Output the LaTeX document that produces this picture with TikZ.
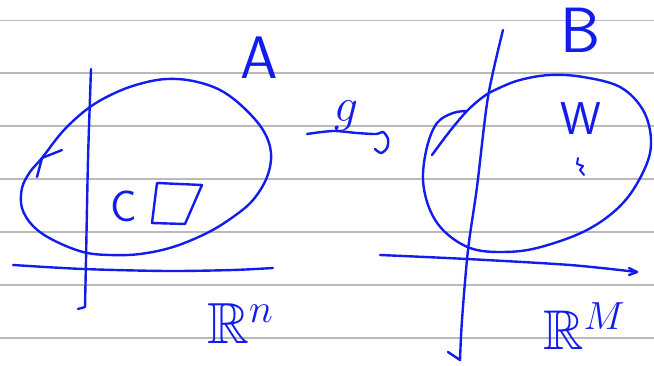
\RequirePackage{fix-cm}
\documentclass[tikz,border=0pt]{standalone}
\usepackage{amssymb}
\definecolor{handblue}{RGB}{18,28,236}
\definecolor{rulegray}{RGB}{186,186,186}
\begin{document}
\begin{tikzpicture}[x=1pt,y=-1pt,
  ink/.style={draw=handblue, line width=2.4pt, line cap=round, line join=round},
  rule/.style={draw=rulegray, line width=1.3pt},
  lbl/.style={text=handblue, inner sep=0pt}]
\useasboundingbox (0,0) rectangle (654,366);
% ruled paper
\foreach \yy in {20.5,73,126,179,232,285,338} \draw[rule] (0,\yy) -- (654,\yy);
% ---- left picture: A in R^n
\draw[ink] plot[smooth cycle, tension=0.6] coordinates {(90,107) (117,92) (143,83) (167,79) (193,81) (220,90) (243,107) (263,130) (271,153) (267,177) (253,200) (233,217) (207,233) (173,247) (140,254) (110,255) (83,252) (53,240) (33,226) (22,208) (22,188) (30,172) (42,158) (64,130)};
\draw[ink] (62,150) -- (42,158) -- (37,177);
\draw[ink] plot[smooth] coordinates {(13,265) (83,269) (167,271) (233,270) (273,268)};
\draw[ink] plot[smooth] coordinates {(91,69) (88,160) (86,260) (85,307)} -- (78,309);
\node[lbl, anchor=base, font=\sffamily\fontsize{60}{60}\selectfont] (A) at (259,79) {A};
\node[lbl, anchor=base, font=\sffamily\fontsize{44}{44}\selectfont] (C) at (124,222) {C};
\draw[ink] (157,183) -- (202,185) -- (185,224) -- (152,223) -- cycle;
\node[lbl, anchor=base west, font=\fontsize{58}{58}\selectfont] (Rn) at (207,344) {$\mathbb{R}^n$};
% ---- the map g
\draw[ink] plot[smooth] coordinates {(307,134) (333,131) (357,133) (376,134) (383,132) (388,139) (387,148) (381,153) (375,149)};
\node[lbl, anchor=base, font=\fontsize{48}{48}\selectfont] (g) at (346,122) {$g$};
% ---- right picture: B in R^M
\draw[ink] plot[smooth, tension=0.6] coordinates {(432,155) (450,131) (467,111) (483,97) (497,89) (520,80) (550,75) (583,77) (620,87) (643,110) (651,140) (645,168) (623,203) (587,230) (537,248) (500,252) (470,248) (445,232) (430,210) (423,180) (427,147) (437,123) (453,113) (467,111)};
\draw[ink] plot[smooth] coordinates {(503,30) (488,97) (477,187) (468,250) (462,320) (460,360)} -- (448,352);
\draw[ink] plot[smooth] coordinates {(380,255) (467,259) (570,265) (637,272)};
\draw[ink] (629,268) -- (637,272) -- (629,275);
\node[lbl, anchor=base, font=\sffamily\fontsize{64}{64}\selectfont] (B) at (581,53) {B};
\node[lbl, anchor=base, font=\sffamily\fontsize{46}{46}\selectfont] (W) at (581,135) {W};
\draw[ink, line width=2pt] (578,158) -- (577,164) -- (583,166) -- (580,170) -- (584,175);
\node[lbl, anchor=base west, font=\fontsize{56}{56}\selectfont] (RM) at (543,350) {$\mathbb{R}^M$};
\end{tikzpicture}
\end{document}
